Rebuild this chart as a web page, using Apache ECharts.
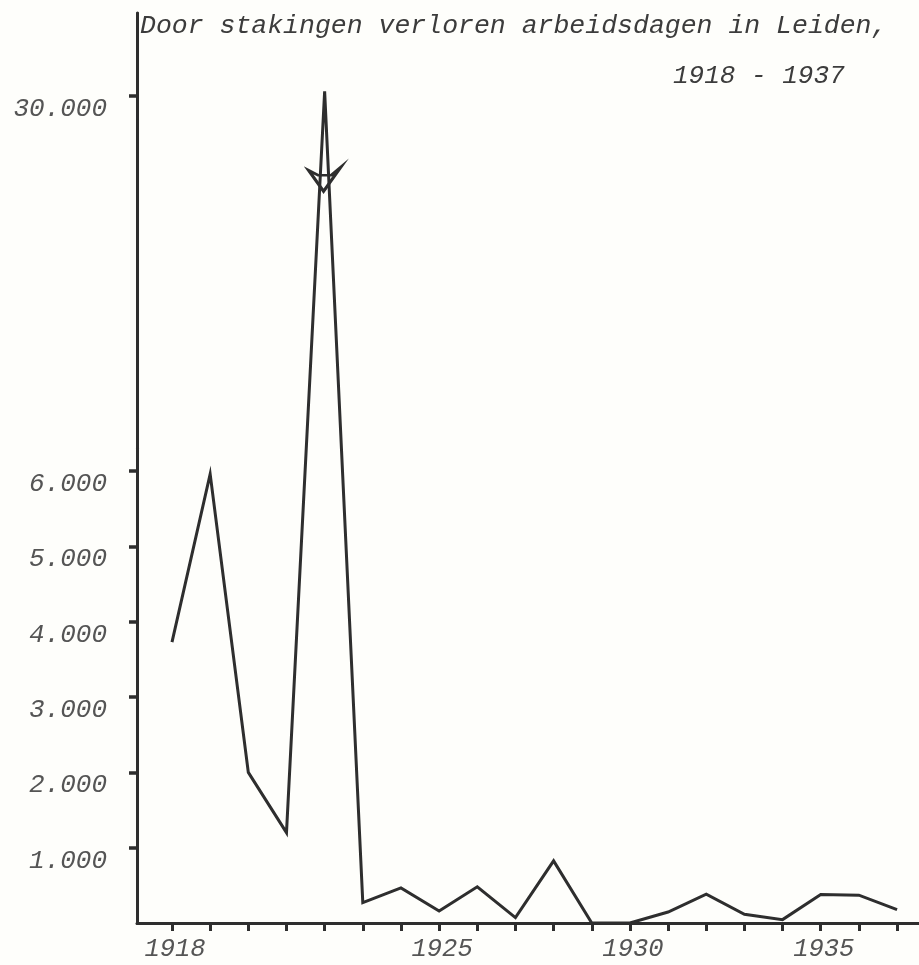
<!DOCTYPE html>
<html>
<head>
<meta charset="utf-8">
<script src="https://cdn.jsdelivr.net/npm/echarts@6/dist/echarts.min.js"></script>
<style>
  html, body { margin: 0; padding: 0; background: #fefefb; }
  #chart { width: 919px; height: 965px; }
</style>
</head>
<body>
<div id="chart"></div>
<script>
// ---- data ----
const titleLine1 = 'Door stakingen verloren arbeidsdagen in Leiden,';
const titleLine2 = '1918 - 1937';
const years = [1918, 1919, 1920, 1921, 1922, 1923, 1924, 1925, 1926, 1927,
               1928, 1929, 1930, 1931, 1932, 1933, 1934, 1935, 1936, 1937];
const lostDays = [3730, 5960, 2000, 1200, 30060, 270, 466, 160, 480, 72,
                  825, 0, 0, 146, 382, 116, 45, 378, 369, 178];
const yTickValues = [1000, 2000, 3000, 4000, 5000, 6000, 30000];
const xLabelYears = [1918, 1925, 1930, 1935];

const FONT = 'Liberation Mono';
const INK = '#2e2e2e';
const LABEL = '#555555';
const BG = '#fefefb';

const chart = echarts.init(document.getElementById('chart'), null, { renderer: 'canvas' });

const option = {
  backgroundColor: BG,
  animation: false,
  title: [
    {
      text: titleLine1,
      left: 135, top: 7,
      textStyle: { fontFamily: FONT, fontStyle: 'italic', fontWeight: 'normal', fontSize: 26.5, color: '#3c3c3c' }
    },
    {
      text: titleLine2,
      left: 668, top: 58,
      textStyle: { fontFamily: FONT, fontStyle: 'italic', fontWeight: 'normal', fontSize: 26, color: '#3c3c3c' }
    }
  ],
  grid: { left: 137, right: 0, top: 13, bottom: 42, containLabel: false, outerBoundsMode: 'none' },
  xAxis: {
    type: 'value',
    min: 1917.083,
    max: 1937.575,
    splitLine: { show: false },
    axisLine: { show: true, onZero: false, lineStyle: { color: INK, width: 3 } },
    axisTick: { show: true, customValues: years, length: 8, lineStyle: { color: INK, width: 3 } },
    axisLabel: {
      customValues: xLabelYears,
      margin: 13,
      padding: [0, 0, 0, 6],
      fontFamily: FONT, fontStyle: 'italic', fontSize: 25.5, color: LABEL,
      formatter: v => String(v)
    }
  },
  yAxis: [
    {
      // plain continuous axis line across the scale break (no ticks, no labels)
      type: 'value',
      position: 'left',
      min: 0,
      max: 1,
      splitLine: { show: false },
      axisLine: { show: true, onZero: false, lineStyle: { color: INK, width: 3 } },
      axisTick: { show: false },
      axisLabel: { show: false }
    },
    {
      type: 'value',
      position: 'left',
      min: 0,
      max: 31100,
      breaks: [{ start: 6300, end: 29700, gap: 4383 }],
      breakArea: { show: false },
      splitLine: { show: false },
      axisLine: { show: true, onZero: false, lineStyle: { color: INK, width: 3 } },
      axisTick: { show: true, inside: false, customValues: yTickValues, length: 8, lineStyle: { color: INK, width: 3.5 } },
      axisLabel: {
        customValues: yTickValues,
        margin: 30,
        verticalAlign: 'top',
        fontFamily: FONT, fontStyle: 'italic', fontSize: 26, color: LABEL,
        formatter: v => (v / 1000) + '.000'
      }
    }
  ],
  series: [{
    type: 'line',
    yAxisIndex: 1,
    data: years.map((y, i) => [y, lostDays[i]]),
    showSymbol: false,
    symbol: 'none',
    lineStyle: { color: INK, width: 3, join: 'miter' },
    markPoint: {
      silent: true,
      label: { show: false },
      data: [{
        type: 'max',
        symbol: 'path://M0,3 L9,8 L21,8 L30,0 L14,24 Z',
        symbolSize: [32, 24],
        symbolOffset: [0, 88],
        itemStyle: { color: 'rgba(0,0,0,0)', borderColor: INK, borderWidth: 3 }
      }]
    }
  }]
};

chart.setOption(option);
</script>
</body>
</html>
